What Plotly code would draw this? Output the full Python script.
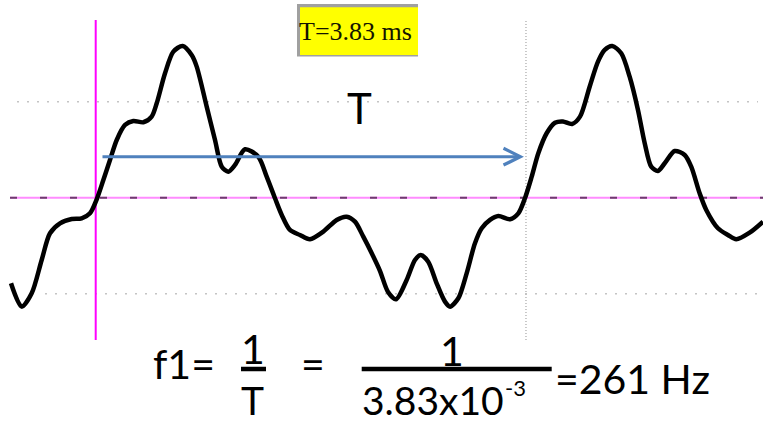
import plotly.graph_objects as go

# ---- data (time in ms, amplitude in screen divisions) ----
T_MS = 3.83
FREQ_HZ = 261
t_ms = [-0.754, -0.659, -0.570, -0.481, -0.407, -0.318, -0.214, -0.125, -0.051, 0.009,
        0.068, 0.127, 0.187, 0.261, 0.335, 0.424, 0.498, 0.543, 0.617, 0.691,
        0.774, 0.854, 0.899, 0.988, 1.062, 1.122, 1.180, 1.240, 1.329, 1.447,
        1.522, 1.596, 1.656, 1.729, 1.818, 1.907, 2.026, 2.145, 2.234, 2.308,
        2.382, 2.457, 2.531, 2.602, 2.673, 2.768, 2.842, 2.893, 2.960, 3.035,
        3.109, 3.154, 3.228, 3.302, 3.376, 3.436, 3.510, 3.584, 3.688, 3.762,
        3.821, 3.881, 3.940, 4.014, 4.088, 4.159, 4.240, 4.311, 4.397, 4.471,
        4.531, 4.598, 4.678, 4.753, 4.827, 4.887, 4.945, 5.005, 5.065, 5.154,
        5.243, 5.301, 5.376, 5.435, 5.539, 5.628, 5.702, 5.821, 5.940]
amp_div = [-0.892, -1.135, -0.996, -0.649, -0.371, -0.267, -0.222, -0.215, -0.163, -0.017,
           0.184, 0.393, 0.601, 0.757, 0.799, 0.785, 0.844, 0.983, 1.296, 1.521,
           1.580, 1.486, 1.365, 0.948, 0.601, 0.323, 0.271, 0.341, 0.504, 0.427,
           0.219, -0.006, -0.180, -0.336, -0.389, -0.433, -0.354, -0.232, -0.198, -0.250,
           -0.406, -0.579, -0.764, -0.982, -1.058, -0.857, -0.649, -0.597, -0.667, -0.892,
           -1.083, -1.135, -1.048, -0.788, -0.475, -0.319, -0.232, -0.191, -0.225, -0.163,
           -0.006, 0.219, 0.463, 0.671, 0.781, 0.794, 0.768, 0.844, 1.156, 1.417,
           1.539, 1.580, 1.504, 1.260, 0.914, 0.567, 0.323, 0.278, 0.358, 0.486,
           0.445, 0.323, 0.046, -0.128, -0.319, -0.389, -0.433, -0.365, -0.250]
grid_levels = [1, -1]
arrow_level = 0.427
label_box = "T=3.83 ms"

W, H = 763, 425
def px(x):
    return x / W
def py(y):
    return 1 - y / H

fig = go.Figure()
fig.add_trace(go.Scatter(x=t_ms, y=amp_div, mode="lines",
                         line=dict(color="black", width=4.5, shape="spline", smoothing=0.8),
                         hoverinfo="skip", showlegend=False))

shapes = []
# dotted grid lines
shapes.append(dict(type="line", xref="paper", yref="y", x0=px(17), x1=px(758), y0=grid_levels[0], y1=grid_levels[0],
                   line=dict(color="#c4c4c4", width=1.5, dash="2px,8px"), layer="below"))
shapes.append(dict(type="line", xref="paper", yref="y", x0=px(45), x1=px(758), y0=grid_levels[1], y1=grid_levels[1],
                   line=dict(color="#c4c4c4", width=1.5, dash="2px,8px"), layer="below"))
# trigger level line (pink with dark dashes)
shapes.append(dict(type="line", xref="paper", yref="y", x0=px(10), x1=1, y0=0, y1=0,
                   line=dict(color="#ff8cff", width=2), layer="below"))
shapes.append(dict(type="line", xref="paper", yref="y", x0=px(10), x1=1, y0=0, y1=0,
                   line=dict(color="#6e3d6e", width=2, dash="7px,23px"), layer="below"))
# cursors
shapes.append(dict(type="line", xref="x", yref="paper", x0=T_MS, x1=T_MS, y0=py(340), y1=py(20),
                   line=dict(color="#b8b8b8", width=1.5, dash="1px,2px"), layer="below"))
shapes.append(dict(type="line", xref="x", yref="paper", x0=0, x1=0, y0=py(340), y1=py(20),
                   line=dict(color="#ff00ff", width=2), layer="below"))
# yellow label box with grey edge
shapes.append(dict(type="rect", xref="paper", yref="paper", x0=px(297), x1=px(418), y0=py(56.5), y1=py(4),
                   line=dict(width=0), fillcolor="#a0a0a0"))
shapes.append(dict(type="rect", xref="paper", yref="paper", x0=px(300), x1=px(418), y0=py(55), y1=py(7.3),
                   line=dict(width=0), fillcolor="#ffff00"))
# fraction bars
shapes.append(dict(type="line", xref="paper", yref="paper", x0=px(241), x1=px(266), y0=py(369), y1=py(369),
                   line=dict(color="black", width=4.5)))
shapes.append(dict(type="line", xref="paper", yref="paper", x0=px(361.7), x1=px(551.7), y0=py(369), y1=py(369),
                   line=dict(color="black", width=4.5)))

F = "Lato, 'Open Sans', sans-serif"
ann = []
def txt(s, x, y, size, xanchor="center", font=F, color="black"):
    ann.append(dict(text=s, xref="paper", yref="paper", x=px(x), y=py(y), xanchor=xanchor, yanchor="middle",
                    showarrow=False, font=dict(family=font, size=size, color=color)))

txt(label_box, 355, 31, 26, font="'Liberation Serif', 'Times New Roman', serif", color="#141400")
txt("T", 359, 108, 42)
txt("f1=", 151, 363, 41, xanchor="left")
txt("1", 253, 348, 41)
txt("T", 252.5, 400, 39)
txt("=", 313, 363, 41)
txt("1", 451.5, 350, 41)
txt("3.83x10", 360, 400, 39, xanchor="left")
txt("-3", 503, 387, 22, xanchor="left")
txt("=" + str(FREQ_HZ) + " Hz", 632.5, 378, 41)

# period arrow
ann.append(dict(text="", x=T_MS - 0.018, y=arrow_level, ax=0.047, ay=arrow_level,
                xref="x", yref="y", axref="x", ayref="y", showarrow=True,
                arrowhead=5, arrowsize=1.1, arrowwidth=3, arrowcolor="#4f81bd", standoff=0))

fig.update_layout(
    width=W, height=H, autosize=False,
    margin=dict(l=0, r=0, t=0, b=0, pad=0),
    paper_bgcolor="white", plot_bgcolor="white",
    xaxis=dict(range=[-0.852, 5.940], visible=False, fixedrange=True),
    yaxis=dict(range=[-2.368, 2.059], visible=False, fixedrange=True),
    shapes=shapes, annotations=ann, showlegend=False,
)
fig.write_html("out.html", config={"displayModeBar": False},
               post_script="document.body.style.margin='0';document.body.style.overflow='hidden';")
